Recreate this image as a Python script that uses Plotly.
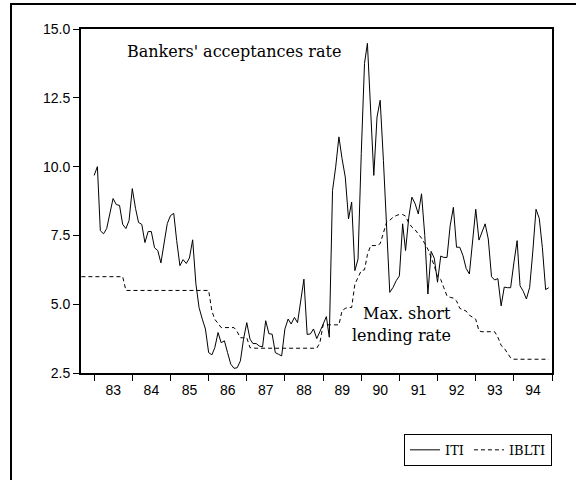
import pandas as pd
import plotly.graph_objects as go

# Bankers' acceptances rate (ITI), monthly 1983-01 .. 1994-12
iti_1983 = [9.68, 10.0, 7.67, 7.56, 7.75, 8.3, 8.84, 8.62, 8.59, 7.9, 7.75, 8.04]
iti_1984 = [9.2, 8.48, 7.97, 7.9, 7.24, 7.64, 7.64, 7.05, 6.95, 6.5, 7.31, 7.93]
iti_1985 = [8.22, 8.3, 7.31, 6.4, 6.62, 6.48, 6.68, 7.34, 5.74, 4.88, 4.46, 4.1]
iti_1986 = [3.24, 3.16, 3.42, 3.97, 3.6, 3.67, 3.24, 2.82, 2.67, 2.69, 2.94, 3.73]
iti_1987 = [4.33, 3.73, 3.57, 3.57, 3.48, 3.45, 4.4, 3.93, 3.91, 3.24, 3.18, 3.12]
iti_1988 = [4.1, 4.46, 4.28, 4.52, 4.33, 5.24, 5.91, 3.9, 3.92, 4.1, 3.75, 4.0]
iti_1989 = [4.3, 4.55, 3.8, 9.13, 9.98, 11.08, 10.29, 9.62, 8.1, 8.71, 6.22, 6.64]
iti_1990 = [10.47, 13.75, 14.48, 12.17, 9.68, 11.8, 12.41, 10.23, 7.55, 5.43, 5.61, 5.85]
iti_1991 = [6.03, 7.92, 6.95, 8.16, 8.89, 8.65, 8.28, 9.01, 7.5, 5.37, 6.92, 6.67]
iti_1992 = [5.8, 6.75, 6.7, 6.7, 7.85, 8.52, 7.07, 7.07, 6.76, 6.3, 6.1, 7.4]
iti_1993 = [8.45, 7.33, 7.65, 7.92, 7.37, 6.0, 5.88, 5.93, 4.94, 5.62, 5.6, 5.6]
iti_1994 = [6.5, 7.31, 5.67, 5.47, 5.19, 5.61, 6.9, 8.45, 8.12, 7.05, 5.53, 5.6]

# Max. short lending rate (IBLTI), monthly 1982-09 .. 1994-12
iblti_1982 = [6.0, 6.0, 6.0, 6.0]
iblti_1983 = [6.0, 6.0, 6.0, 6.0, 6.0, 6.0, 6.0, 6.0, 6.0, 6.0, 5.5, 5.5]
iblti_1984 = [5.5, 5.5, 5.5, 5.5, 5.5, 5.5, 5.5, 5.5, 5.5, 5.5, 5.5, 5.5]
iblti_1985 = [5.5, 5.5, 5.5, 5.5, 5.5, 5.5, 5.5, 5.5, 5.5, 5.5, 5.5, 5.5]
iblti_1986 = [5.5, 4.75, 4.45, 4.3, 4.15, 4.15, 4.15, 4.15, 4.15, 4.0, 3.78, 3.78]
iblti_1987 = [3.78, 3.42, 3.4, 3.4, 3.4, 3.4, 3.4, 3.4, 3.4, 3.4, 3.4, 3.4]
iblti_1988 = [3.4, 3.4, 3.4, 3.4, 3.4, 3.4, 3.4, 3.4, 3.4, 3.4, 3.4, 3.6]
iblti_1989 = [4.25, 4.25, 4.25, 4.25, 4.25, 4.25, 4.76, 4.85, 4.88, 4.88, 5.73, 6.0]
iblti_1990 = [6.22, 6.25, 6.8, 7.13, 7.13, 7.13, 7.2, 7.6, 7.98, 8.05, 8.16, 8.22]
iblti_1991 = [8.26, 8.26, 8.2, 7.95, 7.8, 7.7, 7.55, 7.4, 7.2, 7.0, 6.7, 6.4]
iblti_1992 = [6.0, 5.9, 5.6, 5.3, 5.25, 5.22, 5.12, 4.85, 4.8, 4.75, 4.6, 4.52]
iblti_1993 = [4.45, 4.03, 4.0, 4.0, 4.0, 4.0, 4.0, 3.8, 3.5, 3.4, 3.2, 3.05]
iblti_1994 = [3.0, 3.0, 3.0, 3.0, 3.0, 3.0, 3.0, 3.0, 3.0, 3.0, 3.0, 3.0]

y_ticks = [2.5, 5.0, 7.5, 10.0, 12.5, 15.0]

iti = (iti_1983 + iti_1984 + iti_1985 + iti_1986 + iti_1987 + iti_1988
       + iti_1989 + iti_1990 + iti_1991 + iti_1992 + iti_1993 + iti_1994)
iblti = (iblti_1982 + iblti_1983 + iblti_1984 + iblti_1985 + iblti_1986 + iblti_1987
         + iblti_1988 + iblti_1989 + iblti_1990 + iblti_1991 + iblti_1992 + iblti_1993
         + iblti_1994)

iti_dates = pd.date_range("1983-01-01", periods=len(iti), freq="MS")
iblti_dates = pd.date_range("1982-09-01", periods=len(iblti), freq="MS")

SERIF = "DejaVu Serif, serif"
SANS = "Liberation Sans, Arial, sans-serif"

fig = go.Figure()
fig.add_trace(go.Scatter(x=iti_dates, y=iti, mode="lines", name="ITI",
                         line=dict(color="black", width=1)))
fig.add_trace(go.Scatter(x=iblti_dates, y=iblti, mode="lines", name="IBLTI",
                         line=dict(color="black", width=1, dash="4px,3px")))

axis_style = dict(showline=True, linecolor="black", linewidth=2, mirror=True,
                  showgrid=False, zeroline=False, ticks="outside", ticklen=6,
                  tickcolor="black", tickwidth=1,
                  tickfont=dict(family=SANS, size=14, color="black"))

fig.update_layout(
    width=576, height=480,
    margin=dict(l=81, r=24, t=29, b=107),
    plot_bgcolor="white", paper_bgcolor="white",
    xaxis=dict(type="date", range=["1982-08-28", "1995-01-01"], dtick="M12",
               tick0="1983-01-01", tickformat="%y", ticklabelmode="period",
               ticklabelstandoff=-3, **axis_style),
    yaxis=dict(range=[2.5, 15.0], tickvals=y_ticks, tickformat=".1f", **axis_style),
    showlegend=True,
    legend=dict(orientation="h", x=1, xanchor="right", y=-0.177, yanchor="top",
                bordercolor="black", borderwidth=1, bgcolor="white",
                font=dict(family=SERIF, size=13, color="black"),
                itemwidth=30, tracegroupgap=0),
    annotations=[
        dict(text="Bankers' acceptances rate", x=0.3238, y=0.936, xref="paper", yref="paper",
             xanchor="center", yanchor="middle", showarrow=False,
             font=dict(family=SERIF, size=16, color="black")),
        dict(text="Max. short", x=0.6915, y=0.173, xref="paper", yref="paper",
             xanchor="center", yanchor="middle", showarrow=False,
             font=dict(family=SERIF, size=16, color="black")),
        dict(text="lending rate", x=0.6815, y=0.108, xref="paper", yref="paper",
             xanchor="center", yanchor="middle", showarrow=False,
             font=dict(family=SERIF, size=16, color="black")),
    ],
    shapes=[
        # outer frame around the whole graphic
        dict(type="rect", xref="paper", yref="paper", x0=-0.1486, x1=1.2,
             y0=-0.5, y1=1.0727, line=dict(color="black", width=2)),
    ],
)

fig.write_html("out.html", config={"displayModeBar": False},
               post_script="document.body.style.margin='0';")
